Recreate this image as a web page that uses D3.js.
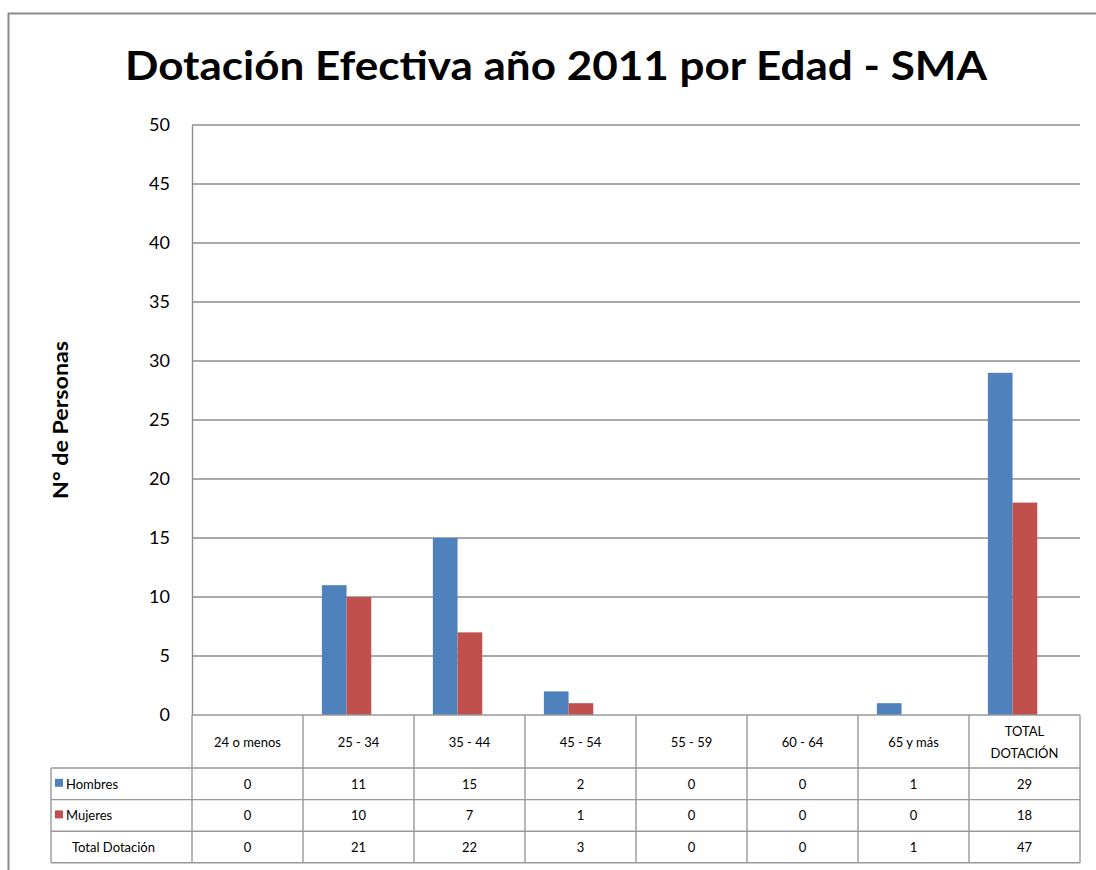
<!DOCTYPE html>
<html>
<head>
<meta charset="utf-8">
<script src="https://cdn.jsdelivr.net/npm/d3@7"></script>
<style>
	body { margin: 0; background: #fff; }
	svg { display: block; }
	text { font-family: Lato, "Open Sans", sans-serif; fill: #000; }
</style>
</head>
<body>
<script>

// chart data
var categories = ["24 o menos", "25 - 34", "35 - 44", "45 - 54", "55 - 59", "60 - 64", "65 y más", "TOTAL DOTACIÓN"];
var hombres = [0, 11, 15, 2, 0, 0, 1, 29];
var mujeres = [0, 10, 7, 1, 0, 0, 0, 18];
var totalDotacion = [0, 21, 22, 3, 0, 0, 1, 47];
var yTicks = [0, 5, 10, 15, 20, 25, 30, 35, 40, 45, 50];

var series = [
	{ name: "Hombres", values: hombres, color: "#4F81BD" },
	{ name: "Mujeres", values: mujeres, color: "#C0504D" }
];

var W = 1096, H = 870;
var plot = { left: 192, right: 1080, top: 125, bottom: 715 };
var rows = { header: 768, h: 31.6 };
var legendLeft = 51;
var gridColor = "#8c8c8c";

var svg = d3.select("body").append("svg")
	.attr("width", W)
	.attr("height", H);

// outer chart frame (runs off the right and bottom edges)
svg.append("rect")
	.attr("x", 8.5).attr("y", 13.5)
	.attr("width", W + 20).attr("height", H + 20)
	.attr("fill", "none")
	.attr("stroke", "#8a8a8a")
	.attr("stroke-width", 2);

// title
svg.append("text")
	.attr("x", 556).attr("y", 80)
	.attr("text-anchor", "middle")
	.attr("font-size", 40)
	.attr("font-weight", "bold")
	.attr("textLength", 862)
	.attr("lengthAdjust", "spacingAndGlyphs")
	.text("Dotación Efectiva año 2011 por Edad - SMA");

var x = d3.scaleBand()
	.domain(categories)
	.range([plot.left, plot.right])
	.paddingInner(0).paddingOuter(0);

var bw = x.bandwidth();
var xs = d3.scaleBand()
	.domain(series.map(function(s) { return s.name; }))
	.range([bw * 0.17, bw * 0.615])
	.padding(0);

var y = d3.scaleLinear()
	.domain([0, 50])
	.range([plot.bottom, plot.top]);

// gridlines
svg.append("g")
	.selectAll("line")
	.data(yTicks.filter(function(t) { return t > 0; }))
	.join("line")
	.attr("x1", plot.left).attr("x2", plot.right)
	.attr("y1", function(d) { return y(d); })
	.attr("y2", function(d) { return y(d); })
	.attr("stroke", gridColor)
	.attr("stroke-width", 1.4);

// y axis
var yAxis = svg.append("g")
	.attr("transform", "translate(" + plot.left + ",0)")
	.call(d3.axisLeft(y).tickValues(yTicks).tickSize(0).tickPadding(22));
yAxis.select(".domain").attr("stroke", gridColor).attr("stroke-width", 1.4);
yAxis.selectAll("text")
	.attr("font-size", 18)
	.attr("font-family", "Lato, 'Open Sans', sans-serif")
	.attr("fill", "#222");

svg.append("text")
	.attr("transform", "translate(68,420) rotate(-90)")
	.attr("text-anchor", "middle")
	.attr("font-size", 20)
	.attr("font-weight", "bold")
	.attr("textLength", 158)
	.attr("lengthAdjust", "spacingAndGlyphs")
	.text("N° de Personas");

// bars
series.forEach(function(s) {
	svg.append("g")
		.selectAll("rect")
		.data(s.values)
		.join("rect")
		.attr("x", function(d, i) { return x(categories[i]) + xs(s.name); })
		.attr("width", xs.bandwidth())
		.attr("y", function(d) { return y(d); })
		.attr("height", function(d) { return y(0) - y(d); })
		.attr("fill", s.color);
});

// data table
var tbl = svg.append("g")
	.attr("fill", "none")
	.attr("stroke", "#999")
	.attr("stroke-width", 1.4);

var tableBottom = rows.header + rows.h * 3;

// zero line / header top
tbl.append("line")
	.attr("x1", plot.left).attr("x2", plot.right)
	.attr("y1", plot.bottom).attr("y2", plot.bottom);

// horizontal row lines
[0, 1, 2, 3].forEach(function(k) {
	tbl.append("line")
		.attr("x1", legendLeft).attr("x2", plot.right)
		.attr("y1", rows.header + rows.h * k).attr("y2", rows.header + rows.h * k);
});

// vertical column lines
var colEdges = categories.map(function(c) { return x(c); }).concat([plot.right]);
colEdges.forEach(function(cx) {
	tbl.append("line")
		.attr("x1", cx).attr("x2", cx)
		.attr("y1", plot.bottom).attr("y2", tableBottom);
});
tbl.append("line")
	.attr("x1", legendLeft).attr("x2", legendLeft)
	.attr("y1", rows.header).attr("y2", tableBottom);

// header labels
var hdr = svg.append("g").attr("font-size", 13).attr("text-anchor", "middle");
categories.forEach(function(c) {
	var cx = x(c) + bw / 2;
	if (c === "TOTAL DOTACIÓN") {
		hdr.append("text").attr("x", cx).attr("y", 736).text("TOTAL");
		hdr.append("text").attr("x", cx).attr("y", 758).text("DOTACIÓN");
	} else {
		hdr.append("text").attr("x", cx).attr("y", 747).text(c);
	}
});

// value rows
var tableRows = [
	{ name: "Hombres", values: hombres, color: "#4F81BD" },
	{ name: "Mujeres", values: mujeres, color: "#C0504D" },
	{ name: "Total Dotación", values: totalDotacion, color: null }
];

tableRows.forEach(function(r, k) {
	var top = rows.header + rows.h * k;
	var ty = top + rows.h / 2 + 5;
	var g = svg.append("g").attr("font-size", 13);

	if (r.color) {
		g.append("rect")
			.attr("x", 55).attr("y", top + rows.h / 2 - 5)
			.attr("width", 8).attr("height", 8)
			.attr("fill", r.color);
		g.append("text").attr("x", 66).attr("y", ty).text(r.name);
	} else {
		g.append("text").attr("x", 72).attr("y", ty).text(r.name);
	}

	g.selectAll("text.v")
		.data(r.values)
		.join("text")
		.attr("class", "v")
		.attr("text-anchor", "middle")
		.attr("x", function(d, i) { return x(categories[i]) + bw / 2; })
		.attr("y", ty)
		.text(function(d) { return d; });
});

</script>
</body>
</html>
